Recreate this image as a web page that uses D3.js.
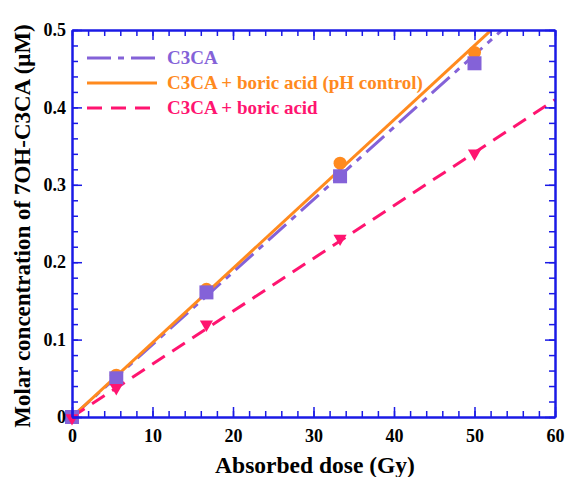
<!DOCTYPE html>
<html>
<head>
<meta charset="utf-8">
<script src="https://cdn.jsdelivr.net/npm/d3@7"></script>
<style>
  body { margin: 0; background: #fff; }
  text { font-family: "Liberation Serif", "Times New Roman", serif; font-weight: bold; }
</style>
</head>
<body>
<svg id="chart" width="565" height="477"></svg>
<script>
// data
var dose = [0, 5.5, 16.7, 33.3, 50];
var c3ca = [0, 0.050, 0.161, 0.311, 0.457];
var phControl = [0, 0.054, 0.165, 0.328, 0.471];
var boric = [0, 0.039, 0.121, 0.232, 0.342];

// fitted lines: [slope, intercept]
var fitC3ca = [0.00936, 0];
var fitPh = [0.0096, 0];
var fitBoric = [0.00683, 0];

var xTicks = [0, 10, 20, 30, 40, 50, 60];
var yTicks = [0, 0.1, 0.2, 0.3, 0.4, 0.5];
var legendNames = ["C3CA", "C3CA + boric acid (pH control)", "C3CA + boric acid"];

var svg = d3.select("#chart");
var axisColor = "#1a1ae6";
var purple = "#8462d8", orange = "#ff8a1e", pink = "#ff1470";

var x = d3.scaleLinear().domain([0, 60]).range([72, 555]);
var y = d3.scaleLinear().domain([0, 0.5]).range([417, 30]);

svg.append("clipPath").attr("id", "plot")
  .append("rect").attr("x", 72).attr("y", 30).attr("width", 483).attr("height", 387);

// fit lines
var series = [
  {fit: fitC3ca, color: purple, dash: "24,7,6,7"},
  {fit: fitPh, color: orange, dash: null},
  {fit: fitBoric, color: pink, dash: "15,9"}
];
var line = d3.line().x(function(d) { return x(d[0]); }).y(function(d) { return y(d[1]); });
var gLines = svg.append("g").attr("clip-path", "url(#plot)");
series.forEach(function(s) {
  var pts = [[0, s.fit[1]], [60, s.fit[0] * 60 + s.fit[1]]];
  gLines.append("path")
    .attr("d", line(pts))
    .attr("fill", "none")
    .attr("stroke", s.color)
    .attr("stroke-width", 3)
    .attr("stroke-dasharray", s.dash);
});

// markers
var gMarks = svg.append("g");
gMarks.selectAll(".circ").data(dose).enter().append("circle")
  .attr("cx", function(d) { return x(d); })
  .attr("cy", function(d, i) { return y(phControl[i]); })
  .attr("r", 6.5)
  .attr("fill", orange);
gMarks.selectAll(".sq").data(dose).enter().append("rect")
  .attr("x", function(d) { return x(d) - 7; })
  .attr("y", function(d, i) { return y(c3ca[i]) - 7; })
  .attr("width", 14).attr("height", 14)
  .attr("fill", purple);
var tri = d3.symbol().type(d3.symbolTriangle).size(75);
gMarks.selectAll(".tri").data(dose).enter().append("path")
  .attr("d", tri)
  .attr("transform", function(d, i) { return "translate(" + x(d) + "," + (y(boric[i]) + 1) + ") rotate(180)"; })
  .attr("fill", pink);

// axes (ticks inward)
function styleAxis(g) {
  g.selectAll(".domain").attr("stroke", axisColor).attr("stroke-width", 2);
  g.selectAll("line").attr("stroke", axisColor).attr("stroke-width", 1.5);
  g.selectAll("text").attr("fill", "#000").style("font-size", "18px");
}
var xMinor = d3.range(0, 61, 2);
var yMinor = d3.range(0, 0.501, 0.02);

var axBottom = svg.append("g").attr("transform", "translate(0,417)");
axBottom.call(d3.axisTop(x).tickValues(xMinor).tickSize(6).tickSizeOuter(0).tickFormat(""));
axBottom.append("g").call(d3.axisTop(x).tickValues(xTicks).tickSize(10).tickSizeOuter(0).tickFormat(""));
axBottom.append("g").call(d3.axisBottom(x).tickValues(xTicks).tickSize(0).tickPadding(12).tickFormat(d3.format("d")))
  .call(g => g.select(".domain").remove());
styleAxis(axBottom);

var axTop = svg.append("g").attr("transform", "translate(0,30)");
axTop.call(d3.axisBottom(x).tickValues(xMinor).tickSize(6).tickSizeOuter(0).tickFormat(""));
axTop.append("g").call(d3.axisBottom(x).tickValues(xTicks).tickSize(10).tickSizeOuter(0).tickFormat(""));
styleAxis(axTop);

var axLeft = svg.append("g").attr("transform", "translate(72,0)");
axLeft.call(d3.axisRight(y).tickValues(yMinor).tickSize(6).tickSizeOuter(0).tickFormat(""));
axLeft.append("g").call(d3.axisRight(y).tickValues(yTicks).tickSize(10).tickSizeOuter(0).tickFormat(""));
axLeft.append("g").call(d3.axisLeft(y).tickValues(yTicks).tickSize(0).tickPadding(6)
    .tickFormat(function(d) { return d === 0 ? "0" : d3.format(".1f")(d); }))
  .call(g => g.select(".domain").remove());
styleAxis(axLeft);

var axRight = svg.append("g").attr("transform", "translate(555,0)");
axRight.call(d3.axisLeft(y).tickValues(yMinor).tickSize(6).tickSizeOuter(0).tickFormat(""));
axRight.append("g").call(d3.axisLeft(y).tickValues(yTicks).tickSize(10).tickSizeOuter(0).tickFormat(""));
styleAxis(axRight);

// axis titles
svg.append("text")
  .attr("x", 315).attr("y", 473)
  .attr("text-anchor", "middle")
  .style("font-size", "23.5px")
  .text("Absorbed dose (Gy)");
svg.append("text")
  .attr("transform", "translate(30,226) rotate(-90)")
  .attr("text-anchor", "middle")
  .style("font-size", "23px")
  .text("Molar concentration of 7OH-C3CA (\u03bcM)");

// legend
var legend = svg.append("g");
series.forEach(function(s, i) {
  var ly = 58 + i * 25;
  legend.append("line")
    .attr("x1", 87).attr("x2", 157).attr("y1", ly).attr("y2", ly)
    .attr("stroke", s.color).attr("stroke-width", 3)
    .attr("stroke-dasharray", s.dash);
  legend.append("text")
    .attr("x", 167).attr("y", ly + 6)
    .attr("fill", s.color)
    .style("font-size", "19px")
    .text(legendNames[i]);
});
</script>
</body>
</html>
